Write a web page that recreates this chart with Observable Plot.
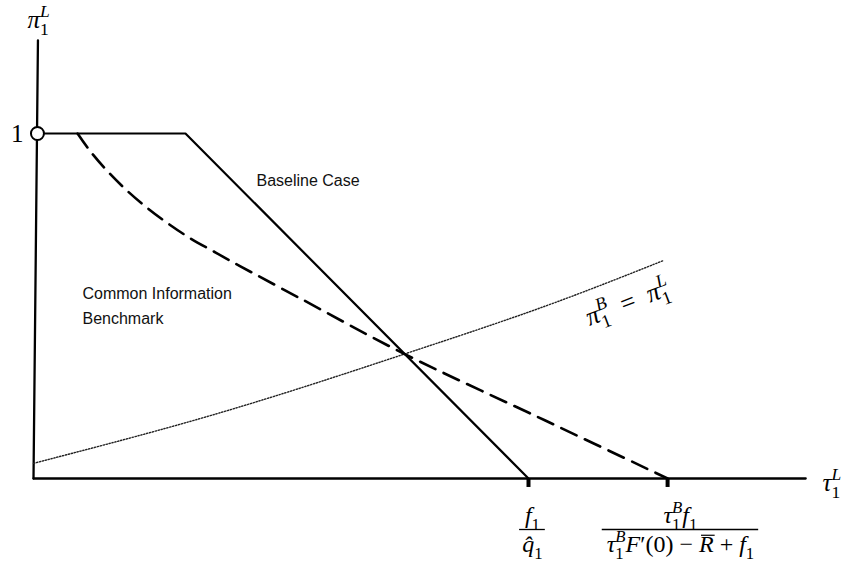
<!DOCTYPE html>
<html><head><meta charset="utf-8">
<script src="https://cdn.jsdelivr.net/npm/d3@7"></script>
<script src="https://cdn.jsdelivr.net/npm/@observablehq/plot@0.6"></script>
<style>body{margin:0;background:#fff}</style>
</head><body><div id="chart"></div>
<script>
// ---- data (x in units of f1/q̂1, y = π1^L) ----
const baselineX = [0.008, 0.307, 1.0];
const baselineY = [1.0, 1.0, 0.0];

const benchmarkX = [0.089, 0.115, 0.148, 0.184, 0.224, 0.269, 0.317, 0.368, 0.418, 0.539, 0.748, 1.034, 1.281];
const benchmarkY = [1.000, 0.948, 0.893, 0.841, 0.791, 0.742, 0.696, 0.655, 0.615, 0.522, 0.362, 0.168, 0.000];

const diagX = [0.000, 0.378, 0.752, 1.065, 1.273];
const diagY = [0.044, 0.191, 0.362, 0.516, 0.632];

const xTicks = [1.0, 1.281];
const tickLabelX = [1.008, 1.307];
const tickNumerators = ["f_1", "τ_1^Bf_1"];
const tickDenominators = ["q̂_1", "τ_1^BF′(0) − R\u0305 + f_1"];
const barHalfWidth = [0.026, 0.158];

const yAxisX = [0.0, 0.009];
const yAxisY = [0.0, 1.27];
const xAxisEnd = 1.56;

const MATH = "Liberation Serif";
const SANS = "Liberation Sans";

const fracRows = xTicks.map((t, i) => ({t, cx: tickLabelX[i], num: tickNumerators[i], den: tickDenominators[i], hw: barHalfWidth[i]}));

const plot = Plot.plot({
  width: 849,
  height: 563,
  x: {domain: [0, 1], range: [33, 528]},
  y: {domain: [0, 1], range: [478, 133]},
  axis: null,
  style: {background: "#fff"},
  marks: [
    // axes
    Plot.line(yAxisX.map((x, i) => ({x, y: yAxisY[i]})), {x: "x", y: "y", stroke: "black", strokeWidth: 2.3}),
    Plot.line([{x: 0, y: 0}, {x: xAxisEnd, y: 0}], {x: "x", y: "y", stroke: "black", strokeWidth: 2.3}),
    // dotted π1^B = π1^L
    Plot.line(diagX.map((x, i) => ({x, y: diagY[i]})), {x: "x", y: "y", curve: "monotone-x", stroke: "#222", strokeWidth: 1.4, strokeDasharray: "1.3,1.7"}),
    // Common information benchmark (dashed)
    Plot.line(benchmarkX.map((x, i) => ({x, y: benchmarkY[i]})), {x: "x", y: "y", curve: "catmull-rom", stroke: "black", strokeWidth: 2.6, strokeDasharray: "17,9"}),
    // Baseline
    Plot.line(baselineX.map((x, i) => ({x, y: baselineY[i]})), {x: "x", y: "y", stroke: "black", strokeWidth: 2.2}),
    // open circle at 1
    Plot.dot([{x: 0.008, y: 1}], {x: "x", y: "y", r: 6.5, fill: "white", stroke: "black", strokeWidth: 2}),
    // x ticks
    Plot.ruleX(xTicks, {x: d => d, y1: 0, y2: -0.026, stroke: "black", strokeWidth: 4}),
    // fractions
    Plot.text(fracRows, {x: "cx", y: 0, text: "num", dy: 37, fontFamily: MATH, fontSize: 24, textAnchor: "middle"}),
    Plot.ruleY(fracRows, {y: 0, x1: d => d.cx - d.hw, x2: d => d.cx + d.hw, dy: 51, stroke: "black", strokeWidth: 1.3}),
    Plot.text(fracRows, {x: "cx", y: 0, text: "den", dy: 66, fontFamily: MATH, fontSize: 24, textAnchor: "middle"}),
    // axis titles
    Plot.text([{x: -0.012, y: 1.33, t: "π_1^L"}], {x: "x", y: "y", text: "t", fontFamily: MATH, fontSize: 25, textAnchor: "start"}),
    Plot.text([{x: 1.594, y: -0.012, t: "τ_1^L"}], {x: "x", y: "y", text: "t", fontFamily: MATH, fontSize: 25, textAnchor: "start"}),
    Plot.text([{x: -0.02, y: 1.0, t: "1"}], {x: "x", y: "y", text: "t", fontFamily: MATH, fontSize: 25, textAnchor: "end"}),
    // rotated label
    Plot.text([{x: 1.2, y: 0.51, t: "π_1^B\u2002=\u2002π_1^L"}], {x: "x", y: "y", text: "t", fontFamily: MATH, fontSize: 26, textAnchor: "middle", rotate: -21}),
    // annotations
    Plot.text([{x: 0.4505, y: 0.864, t: "Baseline Case"}], {x: "x", y: "y", text: "t", fontFamily: SANS, fontSize: 16, textAnchor: "start", fill: "#111"}),
    Plot.text([{x: 0.099, y: 0.536, t: "Common Information"}, {x: 0.099, y: 0.464, t: "Benchmark"}], {x: "x", y: "y", text: "t", fontFamily: SANS, fontSize: 16, textAnchor: "start", fill: "#111"})
  ]
});
document.getElementById("chart").append(plot);

// ---- render simple math markup (_x subscript, ^x superscript, X\u0305 overline) into tspans ----
const isLetter = c => /[A-Za-z\u0370-\u03ff]/.test(c);
const isComb = c => /[\u0300-\u036f]/.test(c);
function parse(s) {
  const runs = [];
  let i = 0;
  while (i < s.length) {
    let c = s[i], kind = "n";
    if (c === "_" || c === "^") { kind = c === "_" ? "sub" : "sup"; i++; c = s[i]; }
    let ch = c; i++;
    while (i < s.length && isComb(s[i])) { ch += s[i]; i++; }
    const over = ch.includes("\u0305");
    runs.push({t: over ? ch.replace("\u0305", "") : ch, kind, italic: isLetter(c), over});
  }
  const merged = [];
  for (const r of runs) {
    const p = merged[merged.length - 1];
    if (p && p.kind === r.kind && p.italic === r.italic && !p.over && !r.over && r.kind === "n") p.t += r.t;
    else merged.push({...r});
  }
  return merged;
}
const SVGNS = "http://www.w3.org/2000/svg";
d3.select(plot).selectAll(`g[font-family="${MATH}"] text`).each(function() {
  const el = this;
  const src = el.textContent;
  const fs = parseFloat(el.closest("g").getAttribute("font-size")) || 24;
  const runs = parse(src);
  el.textContent = "";
  let cur = 0, prev = null, prevSpan = null, idx = 0;
  const overIdx = [];
  for (const r of runs) {
    const ts = document.createElementNS(SVGNS, "tspan");
    ts.textContent = r.t;
    const target = r.kind === "sub" ? 0.28 * fs : r.kind === "sup" ? -0.42 * fs : 0;
    if (target !== cur) ts.setAttribute("dy", target - cur);
    cur = target;
    if (r.kind !== "n") ts.setAttribute("font-size", 0.7 * fs);
    if (r.italic) ts.setAttribute("font-style", "italic");
    if (r.over) overIdx.push(idx);
    if (r.kind === "sup" && prev && prev.kind === "sub" && prevSpan) {
      ts.setAttribute("dx", -prevSpan.getComputedTextLength());
    }
    el.appendChild(ts);
    idx += r.t.length;
    prev = r; prevSpan = ts;
  }
  for (const k of overIdx) {
    const box = el.getExtentOfChar(k);
    const ln = document.createElementNS(SVGNS, "line");
    const yy = box.y + 0.17 * fs;
    ln.setAttribute("x1", box.x + 2); ln.setAttribute("x2", box.x + box.width + 1);
    ln.setAttribute("y1", yy); ln.setAttribute("y2", yy);
    ln.setAttribute("stroke", "black"); ln.setAttribute("stroke-width", 1.2);
    if (el.getAttribute("transform")) ln.setAttribute("transform", el.getAttribute("transform"));
    el.parentNode.appendChild(ln);
  }
});
</script>
</body></html>
